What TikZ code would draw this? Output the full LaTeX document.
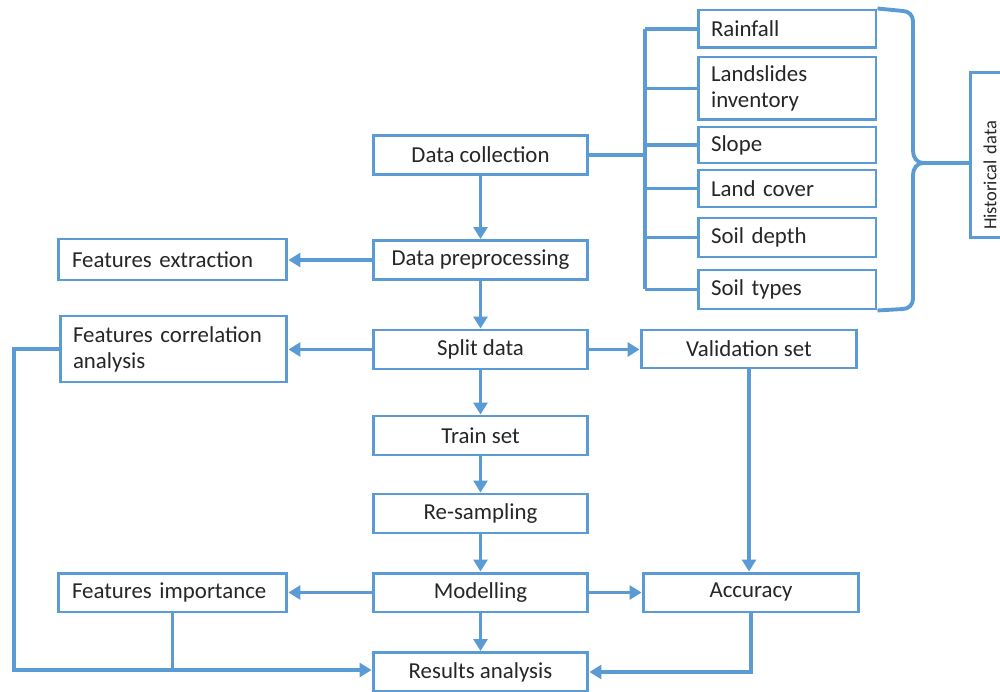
\documentclass[tikz,border=0pt]{standalone}
\usepackage{fontspec}
\setmainfont{Carlito}
\usetikzlibrary{arrows.meta, positioning, calc}
\definecolor{flowblue}{RGB}{91, 155, 213}
\definecolor{txtdark}{RGB}{38, 38, 38}

\begin{document}
\begin{tikzpicture}[x=0.02cm, y=-0.02cm,
    box/.style={draw=flowblue, line width=1.7pt, fill=white, text=txtdark,
      inner sep=0pt, minimum width=4.3cm, minimum height=0.78cm,
      font=\fontsize{13}{14.8}\selectfont},
    sidebox/.style={box, minimum width=4.58cm, text width=4.02cm, align=left},
    itembox/.style={box, minimum width=3.56cm, text width=3.04cm, align=left},
    link/.style={draw=flowblue, line width=2.2pt},
    arr/.style={link, -{Triangle[length=0.24cm, width=0.28cm]}}]

  \useasboundingbox (0,0) rectangle (1000,692);

  % main chain
  \node[box] (collect) at (480.5,155) {Data collection};
  \node[box] (prep)    at (480.5,260) {Data preprocessing};
  \node[box] (split)   at (480.5,349.5) {Split data};
  \node[box] (train)   at (480.5,435.5) {Train set};
  \node[box] (resamp)  at (480.5,513.5) {Re-sampling};
  \node[box] (model)   at (480.5,592.5) {Modelling};
  \node[box] (result)  at (480.5,672) {Results analysis};

  % left column
  \node[sidebox, minimum height=0.82cm] (extract) at (172.5,259.5) {Features extraction};
  \node[sidebox, minimum width=4.54cm, minimum height=1.32cm] (corr) at (173.5,349)
    {Features correlation\\analysis};
  \node[sidebox] (imp) at (172.5,592.5) {Features importance};

  % right column
  \node[box, minimum width=4.32cm, minimum height=0.76cm] (valid) at (749,349) {Validation set};
  \node[box, minimum width=4.32cm] (acc) at (751,592.5) {Accuracy};

  % data items
  \node[itembox, minimum height=0.76cm] (rainfall)   at (787,29)    {Rainfall};
  \node[itembox, minimum height=1.26cm] (landslides) at (787,88.5)  {Landslides\\inventory};
  \node[itembox, minimum height=0.72cm] (slope)      at (787,145)   {Slope};
  \node[itembox, minimum height=0.74cm] (landcover)  at (787,188.5) {Land cover};
  \node[itembox]                        (soildepth)  at (787,237.5) {Soil depth};
  \node[itembox]                        (soiltypes)  at (787,289.5) {Soil types};

  % historical data (cut by the right edge)
  \node[box, rotate=90, minimum width=3.32cm, minimum height=0.8cm,
        text width=3.0cm, align=left, font=\fontsize{10.5}{12}\selectfont]
        (hist) at (990,155) {Historical data};

  % flow arrows
  \draw[arr] (collect) -- (prep);
  \draw[arr] (prep.west) -- (prep.west -| extract.east);
  \draw[arr] (prep) -- (split);
  \draw[arr] (split.west) -- (split.west -| corr.east);
  \draw[arr] (split.east) -- (split.east -| valid.west);
  \draw[arr] (split) -- (train);
  \draw[arr] (train) -- (resamp);
  \draw[arr] (resamp) -- (model);
  \draw[arr] (model.west) -- (model.west -| imp.east);
  \draw[arr] (model.east) -- (model.east -| acc.west);
  \draw[arr] (model) -- (result);
  \draw[arr] (valid.south) -- (valid.south |- acc.north);
  \draw[arr] (acc.south) |- (result.east);

  % feedback on the left
  \coordinate (leftbus) at (14,0);
  \draw[arr] (corr.west) -| ($(leftbus |- result.west)+(0,-2)$) -- ($(result.west)+(0,-2)$);
  \draw[link] (imp.south) -- ($(imp.south |- result.west)+(0,-2)$);

  % data collection bus
  \coordinate (databus) at (645,0);
  \draw[link] (collect.east) -- (collect.east -| databus);
  \draw[link] (databus |- rainfall.west) -- (databus |- soiltypes.west);
  \foreach \item in {rainfall, landslides, slope, landcover, soildepth, soiltypes}
    \draw[link] (databus |- \item.west) -- (\item.west);

  % brace to historical data
  \coordinate (tip) at (923,163);
  \draw[link] (rainfall.north east) -- (903,11) to[out=0, in=90] (913,21)
    -- (913,151) to[out=-90, in=180] (tip);
  \draw[link] (tip) to[out=180, in=90] (913,175) -- (913,299)
    to[out=-90, in=0] (903,309) -- (soiltypes.south east);
  \draw[link] (tip) -- (tip -| hist.north);

\end{tikzpicture}
\end{document}
